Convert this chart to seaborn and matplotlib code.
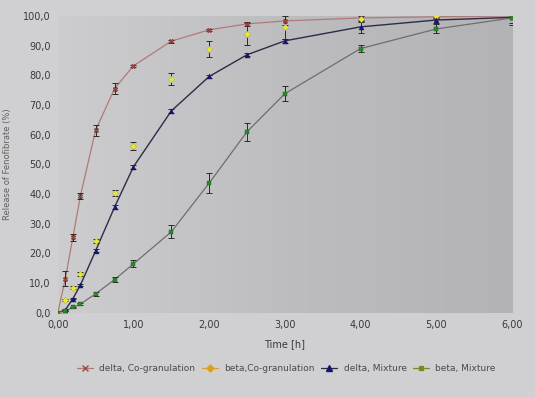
import numpy as np
import pandas as pd
import matplotlib
matplotlib.use("Agg")
import matplotlib.pyplot as plt
from matplotlib.lines import Line2D
from matplotlib.ticker import FuncFormatter, MultipleLocator
import seaborn as sns

# ---- data ----
time_h = [0, 0.1, 0.2, 0.3, 0.5, 0.75, 1.0, 1.5, 2.0, 2.5, 3.0, 4.0, 5.0, 6.0]

delta_cogran = [0, 11.5, 25.5, 39.5, 61.5, 75.5, 83.2, 91.5, 95.3, 97.3, 98.3, 99.3, 99.7, 100.0]
delta_cogran_err = [0, 2.5, 1.2, 1.0, 1.8, 1.8, 0.4, 0.5, 0.4, 0.6, 1.5, 0.8, 0.5, 0.5]

beta_cogran = [0, 4.4, 8.4, 13.0, 24.2, 40.4, 56.2, 78.8, 88.9, 93.9, 96.3, 99.0, 100.0, 100.5]
beta_cogran_err = [0, 0.4, 0.5, 0.6, 0.8, 1.0, 1.4, 2.0, 2.7, 3.8, 4.0, 1.2, 1.0, 1.0]

delta_mix = [0, 1.0, 4.8, 9.4, 20.9, 35.6, 49.2, 68.0, 79.6, 86.9, 91.6, 96.3, 98.6, 99.5]
delta_mix_err = [0, 0.3, 0.3, 0.4, 0.5, 0.6, 0.6, 0.6, 0.5, 0.5, 0.6, 2.0, 1.0, 1.8]

beta_mix = [0, 0.7, 1.8, 3.0, 6.4, 11.2, 16.5, 27.3, 43.7, 61.0, 73.8, 89.0, 95.6, 99.3]
beta_mix_err = [0, 0.2, 0.3, 0.4, 0.7, 0.8, 1.2, 2.2, 3.5, 3.0, 2.6, 1.3, 1.5, 2.5]

labels = ["delta, Co-granulation", "beta,Co-granulation", "delta, Mixture", "beta, Mixture"]
x_ticks = [0, 1, 2, 3, 4, 5, 6]

sns.set_theme(style="white")
plt.rcParams["font.family"] = ["DejaVu Sans"]

fig = plt.figure(figsize=(5.35, 3.97), dpi=100, facecolor="#d0d0d2")
ax = fig.add_axes([0.108, 0.212, 0.849, 0.748])
ax.set_facecolor("#c4c4c7")

# background gradient (lighter at left, darker at right) - decoration only
grad = np.linspace(0, 1, 256).reshape(1, -1)
ax.imshow(grad, extent=[0, 6, 0, 100], aspect="auto", cmap=matplotlib.colors.LinearSegmentedColormap.from_list(
    "g", ["#cdcdd0", "#bdbdc0", "#b3b3b6"]), zorder=0)

# lines
sns.lineplot(x=time_h, y=delta_cogran, ax=ax, color="#b07a78", lw=0.9, zorder=2)
sns.lineplot(x=time_h, y=delta_mix, ax=ax, color="#2c2c48", lw=1.0, zorder=2)
sns.lineplot(x=time_h, y=beta_mix, ax=ax, color="#6e6e6e", lw=0.9, zorder=2)

# error bars
for y, e in [(delta_cogran, delta_cogran_err), (beta_cogran, beta_cogran_err),
             (delta_mix, delta_mix_err), (beta_mix, beta_mix_err)]:
    ax.errorbar(time_h, y, yerr=e, fmt="none", ecolor="#2a2a2a", elinewidth=0.7,
                capsize=2.2, capthick=0.7, zorder=3)

# markers
sns.scatterplot(x=time_h, y=delta_cogran, ax=ax, marker="X", s=11, color="#a04a44", edgecolor="#6a2a28", linewidth=0.3, zorder=4)
sns.scatterplot(x=time_h, y=beta_cogran, ax=ax, marker="D", s=10, color="#e8e83a", edgecolor="#b0b020", linewidth=0.3, zorder=4)
sns.scatterplot(x=time_h, y=delta_mix, ax=ax, marker="^", s=13, color="#16166e", edgecolor="#16166e", linewidth=0.3, zorder=4)
sns.scatterplot(x=time_h, y=beta_mix, ax=ax, marker="s", s=11, color="#2a8a2a", edgecolor="#1a5a1a", linewidth=0.3, zorder=4)

ax.set_xlim(0, 6)
ax.set_ylim(0, 100)
ax.set_xticks(x_ticks)
ax.yaxis.set_major_locator(MultipleLocator(10))
ax.xaxis.set_major_formatter(FuncFormatter(lambda v, p: f"{v:.2f}".replace(".", ",")))
ax.yaxis.set_major_formatter(FuncFormatter(lambda v, p: f"{v:.1f}".replace(".", ",")))
ax.tick_params(axis="both", labelsize=7, colors="#3a3a3a", length=0, pad=5)
for s in ax.spines.values():
    s.set_visible(False)

ax.set_xlabel("Time [h]", fontsize=7, color="#3a3a3a", labelpad=7)
ax.set_ylabel("Release of Fenofibrate (%)", fontsize=6, color="#606060", labelpad=8)

handles = [
    Line2D([], [], color="#b07a78", lw=0.9, marker="x", markersize=4.5, markeredgecolor="#a04a44", markeredgewidth=1.0),
    Line2D([], [], color="#d9a030", lw=0.9, marker="D", markersize=3.5, markerfacecolor="#d9a020", markeredgecolor="#d9a020"),
    Line2D([], [], color="#2c2c48", lw=0.9, marker="^", markersize=4, markerfacecolor="#16166e", markeredgecolor="#16166e"),
    Line2D([], [], color="#7a8a30", lw=0.9, marker="s", markersize=3.5, markerfacecolor="#7a8a20", markeredgecolor="#7a8a20"),
]
fig.legend(handles, labels, loc="center", bbox_to_anchor=(0.535, 0.072), ncol=4, frameon=False,
           fontsize=6.5, handlelength=1.8, columnspacing=0.7, handletextpad=0.7,
           labelcolor="#4a4a4a")

fig.savefig("out.png", dpi=100, facecolor=fig.get_facecolor())
